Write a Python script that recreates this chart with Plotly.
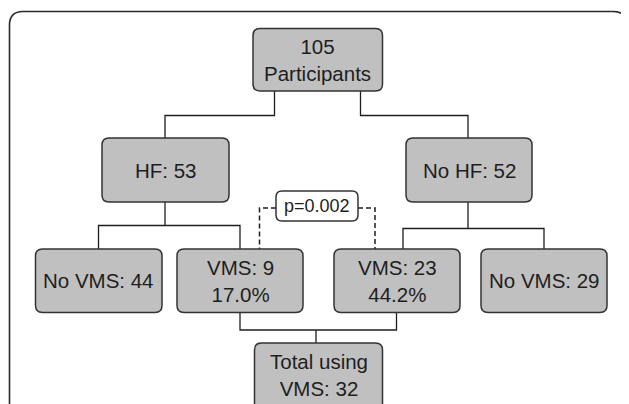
import plotly.graph_objects as go

# ---- data (node labels) ----
node_labels = ["105<br>Participants", "HF: 53", "No HF: 52", "No VMS: 44",
               "VMS: 9<br>17.0%", "VMS: 23<br>44.2%", "No VMS: 29",
               "Total using<br>VMS: 32"]
p_label = "p=0.002"

# ---- layout of nodes (pixel coords: x0, y0, x1, y1) ----
node_boxes = [
    (253, 28.5, 382.5, 91),
    (102, 138, 229, 202),
    (406, 138, 532, 202),
    (35.5, 249, 162, 312.5),
    (177, 249, 303, 312.5),
    (334, 249, 460, 312.5),
    (481, 249, 607, 312.5),
    (254.5, 343, 382.5, 420),
]
p_box = (276, 191, 358, 221)

# connectors (polylines)
connectors = [
    [(274.5, 91), (274.5, 115.5), (165, 115.5), (165, 138)],
    [(360.5, 91), (360.5, 115.5), (468, 115.5), (468, 138)],
    [(165, 202), (165, 225.5)],
    [(98.5, 249), (98.5, 225.5), (240, 225.5), (240, 249)],
    [(468, 202), (468, 228.5)],
    [(403, 249), (403, 228.5), (544, 228.5), (544, 249)],
    [(240, 312.5), (240, 330), (396.5, 330), (396.5, 312.5)],
    [(316, 330), (316, 343)],
]
dashed = [
    [(276, 208), (259.5, 208), (259.5, 249)],
    [(358, 208), (375, 208), (375, 249)],
]

W, H = 629, 404
OFF = 8  # page body margin


def rrect(x0, y0, x1, y1, r=7):
    return (f"M {x0+r},{y0} L {x1-r},{y0} Q {x1},{y0} {x1},{y0+r} "
            f"L {x1},{y1-r} Q {x1},{y1} {x1-r},{y1} L {x0+r},{y1} "
            f"Q {x0},{y1} {x0},{y1-r} L {x0},{y0+r} Q {x0},{y0} {x0+r},{y0} Z")


shapes = []
# outer frame
shapes.append(dict(type="path", xref="x", yref="y",
                   path="M 9.5,420 L 9.5,25 Q 9.5,11.5 23,11.5 L 613,11.5 Q 627,11.5 627,25 L 627,420",
                   line=dict(color="#2a2a2a", width=1.6)))

for pts in connectors:
    path = "M " + " L ".join(f"{x},{y}" for x, y in pts)
    shapes.append(dict(type="path", xref="x", yref="y", path=path,
                       line=dict(color="#1e1e1e", width=1.3)))
for pts in dashed:
    path = "M " + " L ".join(f"{x},{y}" for x, y in pts)
    shapes.append(dict(type="path", xref="x", yref="y", path=path,
                       line=dict(color="#1e1e1e", width=1.5, dash="5px,3px")))

for b in node_boxes:
    shapes.append(dict(type="path", xref="x", yref="y", path=rrect(*b, r=7),
                       fillcolor="#c0c0c0", line=dict(color="#333333", width=1.5)))
shapes.append(dict(type="path", xref="x", yref="y", path=rrect(*p_box, r=6),
                   fillcolor="#ffffff", line=dict(color="#333333", width=1.5)))

FONT = "Liberation Sans, Arial"
annotations = []
for lab, b in zip(node_labels, node_boxes):
    x0, y0, x1, y1 = b
    yc = (y0 + y1) / 2 if y1 <= H else 375
    annotations.append(dict(x=(x0 + x1) / 2, y=yc, xref="x", yref="y", text=lab,
                            showarrow=False, xanchor="center", yanchor="middle",
                            font=dict(family=FONT, size=20.5, color="#1e1e1e")))
annotations.append(dict(x=(p_box[0] + p_box[2]) / 2, y=(p_box[1] + p_box[3]) / 2,
                        xref="x", yref="y", text=p_label, showarrow=False,
                        font=dict(family=FONT, size=18, color="#1e1e1e")))

fig = go.Figure()
fig.update_layout(
    width=W - OFF, height=H - OFF, margin=dict(l=0, r=0, t=0, b=0),
    paper_bgcolor="white", plot_bgcolor="white",
    xaxis=dict(range=[OFF, W], visible=False, fixedrange=True),
    yaxis=dict(range=[H, OFF], visible=False, fixedrange=True),
    shapes=shapes, annotations=annotations, showlegend=False,
)
fig.write_html("out.html")
